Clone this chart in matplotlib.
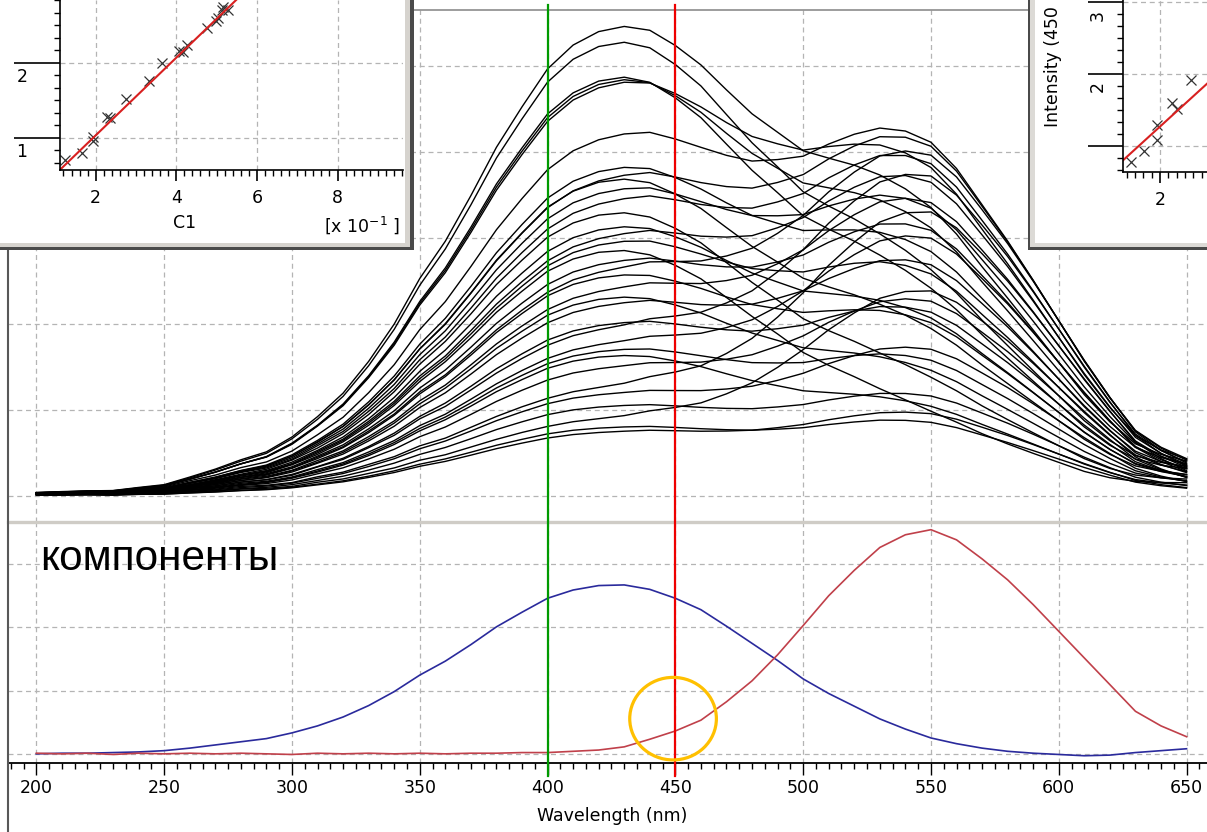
import matplotlib
matplotlib.use("Agg")
import matplotlib.pyplot as plt
import matplotlib.transforms as mtransforms
from matplotlib.patches import Rectangle, Ellipse
from matplotlib.lines import Line2D
from matplotlib.ticker import MultipleLocator, FixedLocator
import numpy as np

plt.rcParams['font.family'] = ['DejaVu Sans']

# ---- data ----
wavelength = np.arange(200, 651, 10)

# resolved component spectra (lower panel)
comp_blue = [0.01, 0.02, 0.02, 0.03, 0.04, 0.06, 0.10, 0.15, 0.20, 0.25,
             0.34, 0.45, 0.59, 0.77, 0.99, 1.25, 1.47, 1.73, 2.01, 2.24,
             2.46, 2.59, 2.66, 2.67, 2.60, 2.46, 2.28, 2.02, 1.75, 1.48,
             1.19, 0.96, 0.76, 0.56, 0.40, 0.26, 0.17, 0.10, 0.05, 0.02,
             0.00, -0.02, -0.01, 0.03, 0.06, 0.09]
comp_red = [0.02, 0.01, 0.02, 0.00, 0.02, 0.01, 0.02, 0.01, 0.02, 0.01,
            0.00, 0.02, 0.01, 0.02, 0.01, 0.02, 0.01, 0.02, 0.02, 0.03,
            0.03, 0.05, 0.07, 0.12, 0.24, 0.37, 0.54, 0.83, 1.16, 1.57,
            2.03, 2.50, 2.90, 3.26, 3.46, 3.54, 3.38, 3.08, 2.75, 2.36,
            1.94, 1.52, 1.10, 0.68, 0.45, 0.28]

# contribution of each component to every measured spectrum (upper panel)
weight_blue = [2.01, 1.95, 1.80, 1.78, 1.76, 1.53, 1.40, 1.35, 1.36, 1.30,
               1.25, 1.22, 1.15, 1.10, 1.08, 1.06, 0.99, 0.95, 0.94, 0.87,
               0.85, 0.81, 0.73, 0.70, 0.64, 0.62, 0.60, 0.54, 0.45, 0.43,
               0.38, 0.32, 0.29, 0.27]
weight_red = [0.80, 0.60, 0.55, 0.75, 0.95, 1.05, 0.70, 1.05, 0.45, 0.85,
              1.00, 0.30, 0.50, 0.95, 0.65, 0.20, 0.80, 1.05, 0.50, 0.90,
              0.35, 0.70, 0.55, 1.00, 0.80, 0.40, 0.25, 0.60, 0.90, 0.45,
              0.30, 0.65, 0.22, 0.25]

marker_wavelengths = [400, 450]
marker_colors = ['#009a00', '#ee0000']

# inset 1: C1 vs intensity
c1_x = [1.24, 1.65, 1.94, 1.94, 2.27, 2.35, 2.75, 3.32, 3.64, 4.07,
        4.17, 4.26, 4.75, 4.98, 5.04, 5.13, 5.15, 5.29]
c1_y = [0.70, 0.79, 0.95, 1.01, 1.28, 1.26, 1.52, 1.76, 2.00, 2.15,
        2.14, 2.24, 2.46, 2.55, 2.60, 2.70, 2.74, 2.70]
c1_fit = (0.518, -0.005)

# inset 2
c2_x = [1.30, 1.62, 1.94, 1.92, 2.28, 2.40, 2.74]
c2_y = [0.77, 0.92, 1.08, 1.29, 1.59, 1.51, 1.92]
c2_fit = (0.53, 0.206)

W, H = 1207, 832
fig = plt.figure(figsize=(W / 100, H / 100), dpi=100)


def rect(x0, y0, x1, y1):
    return [x0 / W, 1 - y1 / H, (x1 - x0) / W, (y1 - y0) / H]


def box(x0, y0, x1, y1, color, z):
    fig.patches.append(Rectangle((x0 / W, 1 - y1 / H), (x1 - x0) / W, (y1 - y0) / H,
                                 transform=fig.transFigure, facecolor=color,
                                 edgecolor='none', zorder=z))


grid_kw = dict(color='#b4b4b4', linestyle=(0, (4, 3)), linewidth=0.9)
XLIM = (188.9, 658.0)

# ---- upper panel: measured spectra ----
ax_top = fig.add_axes(rect(8, 10, 1207, 522))
spectra = np.outer(weight_blue, comp_blue) + np.outer(weight_red, comp_red)
for s in spectra:
    ax_top.plot(wavelength, s, color='black', lw=1.0)
ax_top.set_xlim(XLIM)
ax_top.set_ylim(-0.306, 5.654)
ax_top.xaxis.set_major_locator(MultipleLocator(50))
ax_top.yaxis.set_major_locator(MultipleLocator(1))
ax_top.grid(True, **grid_kw)
ax_top.tick_params(length=0, labelbottom=False, labelleft=False)
for k in ['left', 'right', 'bottom']:
    ax_top.spines[k].set_visible(False)
ax_top.spines['top'].set_color('#8c8c8c')
ax_top.spines['top'].set_linewidth(1.2)

# ---- lower panel: components ----
ax_bot = fig.add_axes(rect(8, 522, 1207, 763.3))
ax_bot.plot(wavelength, comp_blue, color='#2a2a9c', lw=1.2)
ax_bot.plot(wavelength, comp_red, color='#c0404a', lw=1.2)
ax_bot.set_xlim(XLIM)
ax_bot.set_ylim(-0.139, 3.661)
ax_bot.xaxis.set_major_locator(FixedLocator(list(range(200, 651, 50))))
ax_bot.xaxis.set_minor_locator(MultipleLocator(5))
ax_bot.yaxis.set_major_locator(MultipleLocator(1))
ax_bot.grid(True, **grid_kw)
ax_bot.tick_params(axis='y', length=0, labelleft=False)
ax_bot.tick_params(axis='x', which='major', direction='out', length=8.4,
                   width=1.0, labelsize=12.5, pad=2.7)
ax_bot.tick_params(axis='x', which='minor', direction='out', length=4.3, width=1.0)
for k in ['left', 'right']:
    ax_bot.spines[k].set_visible(False)
ax_bot.spines['bottom'].set_linewidth(1.3)
ax_bot.spines['top'].set_color('#cfccc6')
ax_bot.spines['top'].set_linewidth(2.4)

trans = mtransforms.blended_transform_factory(ax_bot.transData, fig.transFigure)
for wl, col in zip(marker_wavelengths, marker_colors):
    ax_bot.plot([wl, wl], [1 - 776 / H, 1 - 5 / H], transform=trans, color=col,
                lw=1.6, clip_on=False, zorder=5)

ax_bot.add_patch(Ellipse((449.1, 0.564), 33.9, 1.30, fill=False,
                         edgecolor='#ffc000', lw=2.3, clip_on=False, zorder=6))

fig.text(612 / W, 1 - 816 / H, 'Wavelength (nm)', ha='center', va='center', fontsize=12.5)
fig.text(40 / W, 1 - 570 / H, 'компоненты', ha='left', va='baseline',
         fontsize=30.5, family=['Liberation Sans', 'DejaVu Sans'])

# left frame line
fig.add_artist(Line2D([8 / W, 8 / W], [0, 1], transform=fig.transFigure,
                      color='#585858', lw=1.5, zorder=2))

# ---- inset windows ----
box(0, 0, 414, 249.5, '#4a4a4a', 4)
box(0, 0, 409.5, 246.5, '#d6d3ce', 4.1)
box(0, 0, 404.5, 243, 'white', 4.2)
box(1027.5, 0, W, 249.5, '#4a4a4a', 4)
box(1029.5, 0, W, 246.5, '#dcdad6', 4.1)
box(1035, 0, W, 243, 'white', 4.2)


def style_inset(ax, xlim, ylim, xmaj):
    ax.set_facecolor('white')
    ax.set_xlim(xlim)
    ax.set_ylim(ylim)
    ax.xaxis.set_major_locator(FixedLocator(xmaj))
    ax.xaxis.set_minor_locator(MultipleLocator(0.2))
    ax.yaxis.set_major_locator(FixedLocator([1, 2, 3]))
    ax.yaxis.set_minor_locator(MultipleLocator(1 / 6))
    ax.grid(True, which='major', **grid_kw)
    ax.tick_params(axis='x', which='major', direction='out', length=7.9, width=1.2,
                   labelsize=12.5, pad=6.0)
    ax.tick_params(axis='x', which='minor', direction='out', length=4.5, width=1.0)
    ax.tick_params(axis='y', which='major', direction='out', length=30, width=1.2,
                   labelleft=False)
    ax.tick_params(axis='y', which='minor', direction='out', length=4.3, width=1.0)
    for k in ['top', 'right']:
        ax.spines[k].set_visible(False)
    for k in ['left', 'bottom']:
        ax.spines[k].set_linewidth(1.2)


ax1 = fig.add_axes(rect(60, 0, 403, 170), zorder=6)
style_inset(ax1, (1.114, 9.625), (0.569, 2.836), [2, 4, 6, 8])
ax1.tick_params(axis='y', which='major', length=33)
ax1.plot(c1_x, c1_y, linestyle='none', marker='x', ms=6.5, mew=0.9, color='#333333')
fx = np.array(ax1.get_xlim())
ax1.plot(fx, c1_fit[0] * fx + c1_fit[1], color='#d82020', lw=1.5)
for v in [1, 2]:
    ax1.annotate(str(v), xy=(0, v), xycoords=('axes fraction', 'data'),
                 xytext=(-38, -14), textcoords='offset pixels',
                 ha='center', va='center', fontsize=12.5)
fig.text(185 / W, 1 - 223 / H, 'C1', ha='center', va='center', fontsize=12.5, zorder=7)
fig.text(362 / W, 1 - 225 / H, r'[x 10$^{-1}$ ]', ha='center', va='center',
         fontsize=12.5, zorder=7)

ax2 = fig.add_axes(rect(1123.3, 0, W, 172), zorder=6)
style_inset(ax2, (1.12, 3.127), (0.633, 3.03), [2, 4])
ax2.tick_params(axis='y', which='major', length=25)
ax2.plot(c2_x, c2_y, linestyle='none', marker='x', ms=6.5, mew=0.9, color='#333333')
fx = np.array(ax2.get_xlim())
ax2.plot(fx, c2_fit[0] * fx + c2_fit[1], color='#d82020', lw=1.5)
for v in [2, 3]:
    ax2.annotate(str(v), xy=(0, v), xycoords=('axes fraction', 'data'),
                 xytext=(-26, -13), textcoords='offset pixels',
                 ha='center', va='center', fontsize=12.5, rotation=90)
fig.text(1053 / W, 1 - 127 / H, 'Intensity (450', rotation=90, ha='center',
         va='bottom', fontsize=12.5, zorder=7)

fig.savefig('out.png', dpi=100)
